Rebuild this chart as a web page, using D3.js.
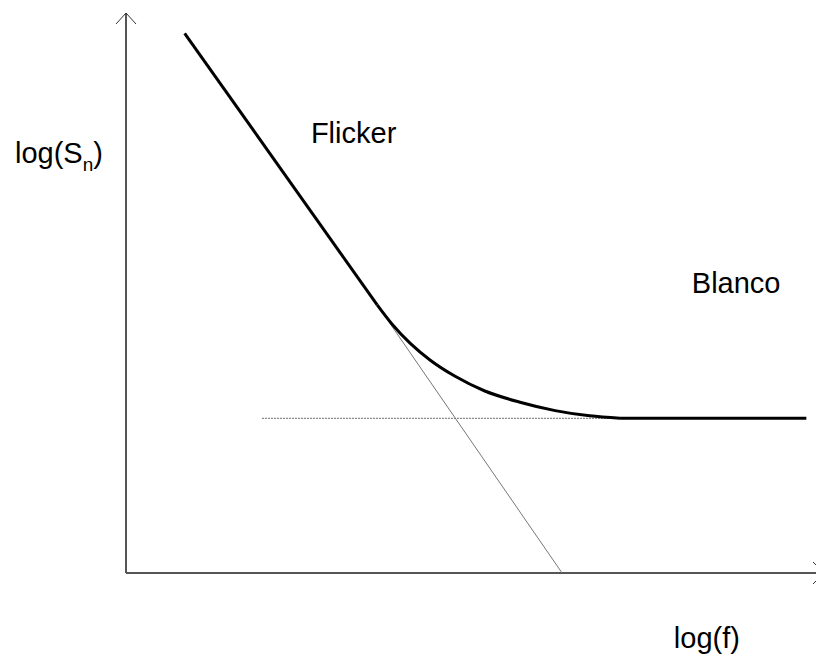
<!DOCTYPE html>
<html>
<head>
<meta charset="utf-8">
<script src="https://cdn.jsdelivr.net/npm/d3@7"></script>
<style>
  body { margin: 0; background: #fff; }
  text { font-family: "Liberation Sans", Arial, sans-serif; fill: #000; }
</style>
</head>
<body>
<script>
// values in arbitrary log units: x = log(f), y = log(Sn)
var flickerLine = [[0.85, 7.71], [3.64, 3.83]];        // thick 1/f part
var flickerAsymptote = [[3.64, 3.83], [6.32, 0]];      // thin extension
var kneeCurve = [
  [3.64, 3.83], [3.86, 3.55], [4.12, 3.28], [4.41, 3.04], [4.77, 2.81],
  [5.20, 2.60], [5.71, 2.44], [6.22, 2.32], [6.72, 2.245], [7.16, 2.21]
];
var whiteLine = [[7.16, 2.21], [9.86, 2.21]];
var whiteAsymptote = [[1.97, 2.21], [7.16, 2.21]];
var labels = [
  {text: "Flicker", x: 2.68, y: 6.15},
  {text: "Blanco", x: 8.2, y: 4.0},
  {text: "log(f)", x: 7.94, y: -1.07}
];

var width = 816,
    height = 665;

var x = d3.scaleLinear().domain([0, 10]).range([126, 816]);
var y = d3.scaleLinear().domain([0, 8]).range([573, 13]);

var svg = d3.select("body").append("svg")
    .attr("width", width)
    .attr("height", height);

var line = d3.line()
    .x(function(d) { return x(d[0]); })
    .y(function(d) { return y(d[1]); });

var smooth = d3.line()
    .x(function(d) { return x(d[0]); })
    .y(function(d) { return y(d[1]); })
    .curve(d3.curveMonotoneX);

// axes
svg.append("line")
    .attr("x1", x(0)).attr("y1", y(0))
    .attr("x2", x(0)).attr("y2", y(8))
    .style("stroke", "#555").style("stroke-width", 2);
svg.append("line")
    .attr("x1", x(0)).attr("y1", y(0))
    .attr("x2", x(10)).attr("y2", y(0))
    .style("stroke", "#555").style("stroke-width", 2);

// arrow heads
svg.append("path")
    .attr("d", "M" + (x(0) - 10) + "," + (y(8) + 11) + "L" + x(0) + "," + y(8) + "L" + (x(0) + 10) + "," + (y(8) + 11))
    .style("fill", "none").style("stroke", "#333").style("stroke-width", 1);
svg.append("path")
    .attr("d", "M" + (x(10) - 3) + "," + (y(0) - 11) + "L" + (x(10) + 8) + "," + y(0) + "L" + (x(10) - 3) + "," + (y(0) + 11))
    .style("fill", "none").style("stroke", "#333").style("stroke-width", 1);

// asymptotes
svg.append("path")
    .attr("d", line(whiteAsymptote))
    .style("fill", "none").style("stroke", "#888").style("stroke-width", 1.2)
    .style("stroke-dasharray", "2 1");
svg.append("path")
    .attr("d", line(flickerAsymptote))
    .style("fill", "none").style("stroke", "#777").style("stroke-width", 1);

// noise spectrum
[flickerLine, whiteLine].forEach(function(seg) {
  svg.append("path")
      .attr("d", line(seg))
      .style("fill", "none").style("stroke", "#000").style("stroke-width", 3);
});
svg.append("path")
    .attr("d", smooth(kneeCurve))
    .style("fill", "none").style("stroke", "#000").style("stroke-width", 3);

// labels
svg.selectAll(".lbl")
    .data(labels)
    .enter().append("text")
    .attr("class", "lbl")
    .attr("x", function(d) { return x(d.x); })
    .attr("y", function(d) { return y(d.y); })
    .style("font-size", "29px")
    .text(function(d) { return d.text; });

var ylab = svg.append("text")
    .attr("x", 15)
    .attr("y", 163)
    .style("font-size", "29px");
ylab.append("tspan").text("log(S");
ylab.append("tspan").attr("dy", 8).style("font-size", "19px").text("n");
ylab.append("tspan").attr("dy", -8).text(")");
</script>
</body>
</html>
